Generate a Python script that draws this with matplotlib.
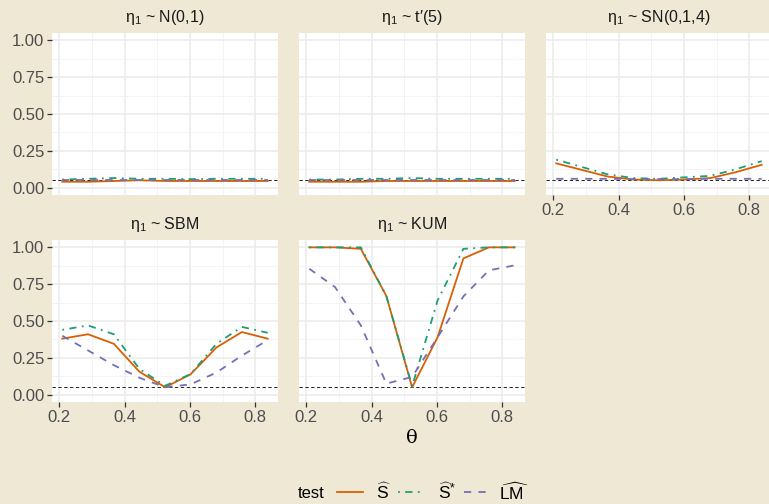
"""
Rejection rates by theta for five error distributions (facet layout).
"""
import numpy as np
import matplotlib
matplotlib.use("Agg")
import matplotlib.pyplot as plt
from matplotlib.lines import Line2D
from matplotlib.ticker import MultipleLocator

plt.rcParams["font.family"] = ["Liberation Sans", "DejaVu Sans"]
plt.rcParams["mathtext.fontset"] = "custom"
plt.rcParams["mathtext.rm"] = "Liberation Sans"
plt.rcParams["mathtext.it"] = "Liberation Sans:italic"
plt.rcParams["mathtext.default"] = "regular"

# --- Data ---
theta = [0.209, 0.288, 0.367, 0.445, 0.524, 0.602, 0.681, 0.759, 0.838]

panels = [
    r"$\eta_1$ ~ N(0,1)",
    r"$\eta_1$ ~ t′(5)",
    r"$\eta_1$ ~ SN(0,1,4)",
    r"$\eta_1$ ~ SBM",
    r"$\eta_1$ ~ KUM",
]

s_hat = [
    [0.040, 0.040, 0.045, 0.050, 0.045, 0.045, 0.045, 0.045, 0.045],
    [0.040, 0.040, 0.040, 0.045, 0.045, 0.045, 0.045, 0.045, 0.045],
    [0.165, 0.120, 0.075, 0.055, 0.050, 0.055, 0.065, 0.105, 0.155],
    [0.380, 0.410, 0.345, 0.156, 0.050, 0.138, 0.320, 0.425, 0.380],
    [1.000, 1.000, 0.990, 0.670, 0.050, 0.390, 0.925, 1.000, 1.000],
]
s_hat_star = [
    [0.055, 0.060, 0.065, 0.060, 0.060, 0.058, 0.060, 0.060, 0.060],
    [0.055, 0.055, 0.060, 0.060, 0.065, 0.060, 0.060, 0.060, 0.060],
    [0.190, 0.140, 0.090, 0.065, 0.060, 0.070, 0.080, 0.125, 0.180],
    [0.440, 0.470, 0.410, 0.175, 0.060, 0.140, 0.345, 0.460, 0.420],
    [1.000, 1.000, 1.000, 0.670, 0.057, 0.640, 0.990, 1.000, 1.000],
]
lm_hat = [
    [0.050, 0.050, 0.050, 0.050, 0.050, 0.050, 0.050, 0.050, 0.050],
    [0.050, 0.050, 0.050, 0.050, 0.050, 0.050, 0.050, 0.050, 0.050],
    [0.060, 0.060, 0.060, 0.058, 0.058, 0.058, 0.060, 0.060, 0.060],
    [0.400, 0.300, 0.200, 0.115, 0.050, 0.070, 0.150, 0.265, 0.370],
    [0.855, 0.730, 0.470, 0.075, 0.120, 0.390, 0.667, 0.844, 0.878],
]

nominal = 0.05

tests = [r"$\widehat{S}$", r"$\widehat{S}^{*}$", r"$\widehat{LM}$"]
colors = ["#D95F02", "#1B9E77", "#7570B3"]
styles = ["-", (0, (1, 3, 4, 3)), (0, (4, 4))]

BG = "#EEE8D5"
W, H = 769, 504

fig = plt.figure(figsize=(W / 100, H / 100), dpi=100, facecolor=BG)

# panel boxes in pixels: (left, top)
pw, ph = 226, 162
boxes = [(52, 33), (299, 33), (546, 33), (52, 240), (299, 240)]

for i, (x0, y0) in enumerate(boxes):
    ax = fig.add_axes([x0 / W, 1 - (y0 + ph) / H, pw / W, ph / H])
    ax.set_facecolor("white")
    for sp in ax.spines.values():
        sp.set_visible(False)

    ax.axhline(nominal, color="black", lw=0.6, ls=(0, (4, 3)), zorder=1)
    for vals, c, ls in zip([s_hat[i], s_hat_star[i], lm_hat[i]], colors, styles):
        ax.plot(theta, vals, color=c, lw=1.3, ls=ls, zorder=3)

    ax.set_xlim(0.1776, 0.8696)
    ax.set_ylim(-0.05, 1.05)
    ax.xaxis.set_major_locator(MultipleLocator(0.2))
    ax.xaxis.set_minor_locator(MultipleLocator(0.1))
    ax.yaxis.set_major_locator(MultipleLocator(0.25))
    ax.yaxis.set_minor_locator(MultipleLocator(0.125))
    ax.grid(which="major", color="#EBEBEB", lw=1.1, zorder=0)
    ax.grid(which="minor", color="#F2F2F2", lw=0.6, zorder=0)
    ax.set_axisbelow(True)
    ax.tick_params(which="minor", length=0)
    ax.tick_params(which="major", length=3.5, width=0.9, color="#333333",
                   labelcolor="#4D4D4D", labelsize=12, pad=2)
    ax.yaxis.set_major_formatter(plt.FuncFormatter(lambda v, p: f"{v:.2f}"))
    ax.xaxis.set_major_formatter(plt.FuncFormatter(lambda v, p: f"{v:.1f}"))

    if i not in (0, 3):
        ax.tick_params(axis="y", length=0, labelleft=False)
    if i in (0, 1):
        ax.tick_params(axis="x", length=0, labelbottom=False)

    ax.set_title(panels[i], fontsize=11.5, color="#1A1A1A", pad=8)

# axis label
fig.text(412 / W, 1 - 438 / H, "θ", ha="center", va="center",
         fontsize=14, family="DejaVu Serif", color="black")

# legend, laid out by hand like the ggplot guide
fig.text(311 / W, 1 - 493 / H, "test", ha="center", va="center",
         fontsize=12, color="black")
key_x = [337, 398, 464]
lab_x = [384, 447, 514]
for kx, lx, c, ls, lab in zip(key_x, lab_x, colors, styles, tests):
    fig.add_artist(Line2D([kx / W, (kx + 26) / W], [1 - 492 / H] * 2,
                          color=c, lw=1.3, ls=ls, transform=fig.transFigure))
    fig.text(lx / W, 1 - 492 / H, lab, ha="center", va="center",
             fontsize=12.5, color="black")

fig.savefig("out.png", dpi=100, facecolor=BG)
